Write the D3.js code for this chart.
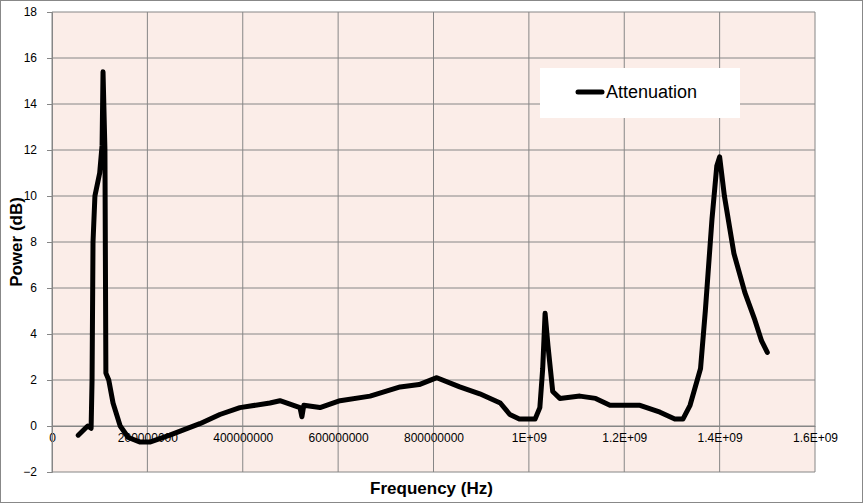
<!DOCTYPE html>
<html>
<head>
<meta charset="utf-8">
<script src="https://cdn.jsdelivr.net/npm/d3@7"></script>
<style>
  body { margin: 0; background: #fff; }
  text { font-family: "Liberation Sans", Arial, sans-serif; }
</style>
</head>
<body>
<svg id="chart"></svg>
<script>
// frequency (Hz) and attenuation (dB)
var freq = [5.5e7, 7e7, 7.5e7, 8.2e7, 8.4e7, 8.6e7, 9e7, 1e8, 1.05e8, 1.07e8, 1.11e8, 1.13e8, 1.19e8, 1.28e8,
  1.43e8, 1.6e8, 1.85e8, 2.05e8, 2.47e8, 3.1e8, 3.52e8, 3.94e8, 4.57e8, 4.78e8, 5.2e8, 5.24e8, 5.28e8,
  5.62e8, 6.04e8, 6.67e8, 7.3e8, 7.7e8, 8.07e8, 8.55e8, 8.97e8, 9.4e8, 9.6e8, 9.8e8, 1.013e9, 1.023e9,
  1.029e9, 1.034e9, 1.04e9, 1.05e9, 1.065e9, 1.107e9, 1.14e9, 1.17e9, 1.233e9, 1.275e9, 1.306e9, 1.323e9,
  1.338e9, 1.36e9, 1.37e9, 1.384e9, 1.394e9, 1.4e9, 1.41e9, 1.43e9, 1.453e9, 1.474e9, 1.488e9, 1.5e9];
var atten = [-0.4, -0.1, 0, -0.1, 2, 8, 10, 11, 12.2, 15.4, 12, 2.3, 2.0, 1.0,
  0, -0.5, -0.7, -0.7, -0.4, 0.1, 0.5, 0.8, 1.0, 1.1, 0.8, 0.4, 0.9,
  0.8, 1.1, 1.3, 1.7, 1.8, 2.1, 1.7, 1.4, 1.0, 0.5, 0.3, 0.3, 0.8,
  2.5, 4.9, 3.5, 1.5, 1.2, 1.3, 1.2, 0.9, 0.9, 0.6, 0.3, 0.3,
  0.9, 2.5, 5, 9, 11.3, 11.7, 10, 7.5, 5.8, 4.6, 3.7, 3.2];
var xTicks = [0, 2e8, 4e8, 6e8, 8e8, 1e9, 1.2e9, 1.4e9, 1.6e9];
var xTickLabels = ["0", "200000000", "400000000", "600000000", "800000000", "1E+09", "1.2E+09", "1.4E+09", "1.6E+09"];
var yTicks = [-2, 0, 2, 4, 6, 8, 10, 12, 14, 16, 18];

var W = 863, H = 503;
var pLeft = 52, pRight = 815, pTop = 12, pBottom = 472;

var svg = d3.select("#chart").attr("width", W).attr("height", H);
svg.append("rect").attr("x", 0.5).attr("y", 0.5).attr("width", W - 1).attr("height", H - 1)
  .attr("fill", "#fff").attr("stroke", "#888");

var x = d3.scaleLinear().domain([0, 1.6e9]).range([pLeft, pRight]);
var y = d3.scaleLinear().domain([-2, 18]).range([pBottom, pTop]);

svg.append("rect").attr("x", pLeft).attr("y", pTop).attr("width", pRight - pLeft).attr("height", pBottom - pTop)
  .attr("fill", "#fbede8");

// gridlines
svg.append("g").selectAll("line").data(yTicks).enter().append("line")
  .attr("x1", pLeft).attr("x2", pRight).attr("y1", d => y(d)).attr("y2", d => y(d))
  .attr("stroke", "#868686").attr("stroke-width", 1);
svg.append("g").selectAll("line").data(xTicks).enter().append("line")
  .attr("y1", pTop).attr("y2", pBottom).attr("x1", d => x(d)).attr("x2", d => x(d))
  .attr("stroke", "#868686").attr("stroke-width", 1);

var xAxis = d3.axisBottom(x).tickValues(xTicks).tickFormat((d, i) => xTickLabels[i]).tickSize(0).tickPadding(7);
svg.append("g").attr("transform", `translate(0, ${y(0)})`).call(xAxis)
  .call(g => g.select(".domain").attr("stroke", "#868686"))
  .selectAll("text").attr("font-size", 12).attr("fill", "#000")
  .attr("font-family", "Liberation Sans, Arial, sans-serif");

var yAxis = d3.axisLeft(y).tickValues(yTicks).tickSize(5).tickPadding(10);
svg.append("g").attr("transform", `translate(${pLeft}, 0)`).call(yAxis)
  .call(g => g.selectAll("line, .domain").attr("stroke", "#868686"))
  .selectAll("text").attr("font-size", 12).attr("fill", "#000")
  .attr("font-family", "Liberation Sans, Arial, sans-serif");

var pts = freq.map((f, i) => [f, atten[i]]);
svg.append("path").datum(pts)
  .attr("d", d3.line().x(d => x(d[0])).y(d => y(d[1])))
  .attr("fill", "none").attr("stroke", "#000").attr("stroke-width", 5)
  .attr("stroke-linejoin", "round").attr("stroke-linecap", "round");

// legend
svg.append("rect").attr("x", 540).attr("y", 68).attr("width", 200).attr("height", 50).attr("fill", "#fff");
svg.append("line").attr("x1", 578).attr("x2", 602).attr("y1", 92).attr("y2", 92)
  .attr("stroke", "#000").attr("stroke-width", 5).attr("stroke-linecap", "round");
svg.append("text").attr("x", 606).attr("y", 98).attr("font-size", 18).text("Attenuation");

svg.append("text").attr("x", (pLeft + pRight) / 2 - 2).attr("y", 494).attr("text-anchor", "middle")
  .attr("font-size", 17).attr("font-weight", "bold").text("Frequency (Hz)");
svg.append("text").attr("transform", `translate(22, ${(pTop + pBottom) / 2}) rotate(-90)`)
  .attr("text-anchor", "middle").attr("font-size", 17).attr("font-weight", "bold").text("Power (dB)");
</script>
</body>
</html>
